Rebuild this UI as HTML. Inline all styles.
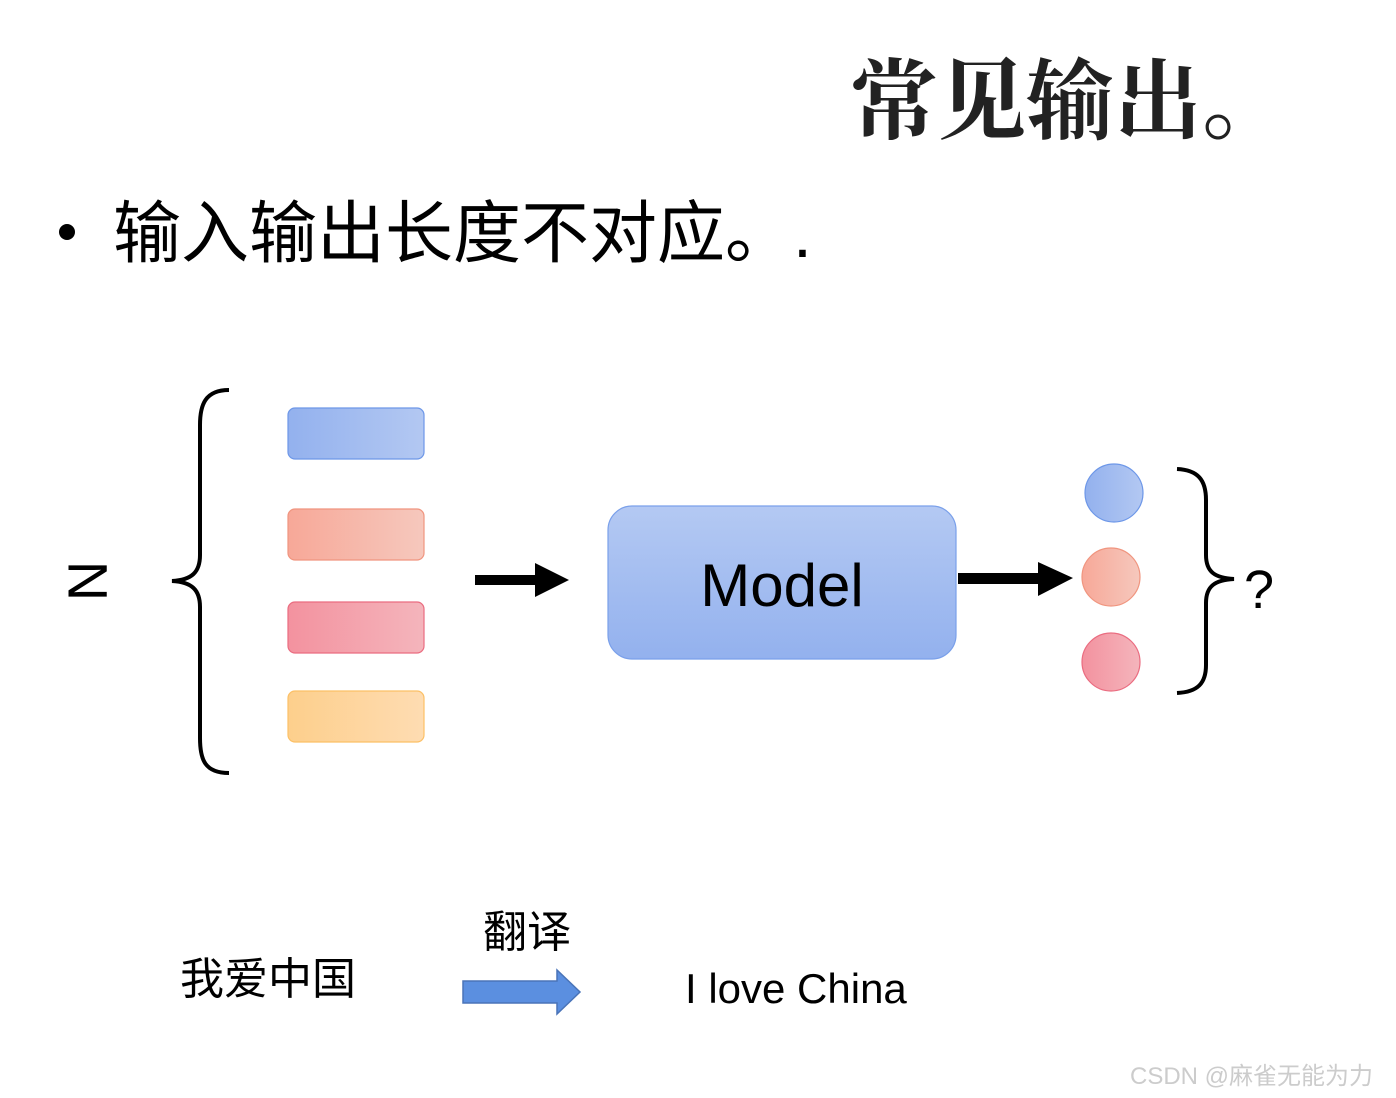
<!DOCTYPE html>
<html><head><meta charset="utf-8"><style>
html,body{margin:0;padding:0;background:#fff;}
svg{display:block;}
</style></head><body>
<svg width="1396" height="1098" viewBox="0 0 1396 1098" xmlns="http://www.w3.org/2000/svg">
<defs>
<linearGradient id="gb" x1="0" x2="1"><stop offset="0" stop-color="#93b1ee"/><stop offset="1" stop-color="#b3c8f2"/></linearGradient>
<linearGradient id="go" x1="0" x2="1"><stop offset="0" stop-color="#f7a898"/><stop offset="1" stop-color="#f6c8bd"/></linearGradient>
<linearGradient id="gr" x1="0" x2="1"><stop offset="0" stop-color="#f3929f"/><stop offset="1" stop-color="#f4b5bc"/></linearGradient>
<linearGradient id="gy" x1="0" x2="1"><stop offset="0" stop-color="#fdcf8c"/><stop offset="1" stop-color="#fedcb2"/></linearGradient>
<linearGradient id="gm" x1="0" y1="0" x2="0" y2="1"><stop offset="0" stop-color="#b4c9f3"/><stop offset="1" stop-color="#93b1ee"/></linearGradient>
</defs>
<text x="850" y="132" font-family="'Noto Serif CJK SC',serif" font-weight="bold" font-size="88" fill="#222">常见输出。</text>
<circle cx="67" cy="232" r="8" fill="#000"/>
<text x="113" y="257" font-family="'Liberation Sans','Noto Sans CJK SC',sans-serif" font-size="68" fill="#000">输入输出长度不对应。.</text>

<!-- left brace -->
<path d="M229 390 C205 390 200 405 200 425 L200 555 C200 572 192 580 172 581 C192 582 200 590 200 607 L200 738 C200 760 205 773 229 773" fill="none" stroke="#000" stroke-width="4"/>
<text transform="translate(88,581) rotate(90)" text-anchor="middle" dominant-baseline="central" font-family="'Liberation Sans',sans-serif" font-size="56" fill="#000">N</text>

<rect x="288" y="408" width="136" height="51" rx="7" fill="url(#gb)" stroke="#6d97e8" stroke-width="1.2"/>
<rect x="288" y="509" width="136" height="51" rx="7" fill="url(#go)" stroke="#f0957f" stroke-width="1.2"/>
<rect x="288" y="602" width="136" height="51" rx="7" fill="url(#gr)" stroke="#ea6c80" stroke-width="1.2"/>
<rect x="288" y="691" width="136" height="51" rx="7" fill="url(#gy)" stroke="#fcc066" stroke-width="1.2"/>

<rect x="475" y="575" width="62" height="10" fill="#000"/>
<polygon points="535,563 569,580 535,597" fill="#000"/>

<rect x="608" y="506" width="348" height="153" rx="24" fill="url(#gm)" stroke="#7aa0ea" stroke-width="1.2"/>
<text x="782" y="606" text-anchor="middle" font-family="'Liberation Sans',sans-serif" font-size="60" fill="#000">Model</text>

<rect x="958" y="573" width="82" height="11" fill="#000"/>
<polygon points="1038,562 1073,578 1038,596" fill="#000"/>

<circle cx="1114" cy="493" r="29" fill="url(#gb)" stroke="#6d97e8" stroke-width="1.2"/>
<circle cx="1111" cy="577" r="29" fill="url(#go)" stroke="#f0957f" stroke-width="1.2"/>
<circle cx="1111" cy="662" r="29" fill="url(#gr)" stroke="#ea6c80" stroke-width="1.2"/>

<path d="M1177 469 C1198 470 1206 480 1206 500 L1206 555 C1206 572 1215 578 1234 579 C1215 580 1206 586 1206 603 L1206 665 C1206 683 1198 692 1177 693" fill="none" stroke="#000" stroke-width="4"/>
<text x="1244" y="608" font-family="'Liberation Sans',sans-serif" font-size="54" fill="#000">?</text>

<text x="180" y="994" font-family="'Liberation Sans','Noto Sans CJK SC',sans-serif" font-size="44" fill="#000">我爱中国</text>
<text x="483" y="947" font-family="'Liberation Sans','Noto Sans CJK SC',sans-serif" font-size="44" fill="#000">翻译</text>
<polygon points="463,981 557,981 557,970 580,992 557,1014 557,1003 463,1003" fill="#5b8fe0" stroke="#4a74b8" stroke-width="1.5"/>
<text x="685" y="1003" font-family="'Liberation Sans',sans-serif" font-size="42" fill="#000">I love China</text>

<text x="1130" y="1084" font-family="'Liberation Sans','Noto Sans CJK SC',sans-serif" font-size="24" fill="#ccc">CSDN @麻雀无能为力</text>
</svg>
</body></html>
